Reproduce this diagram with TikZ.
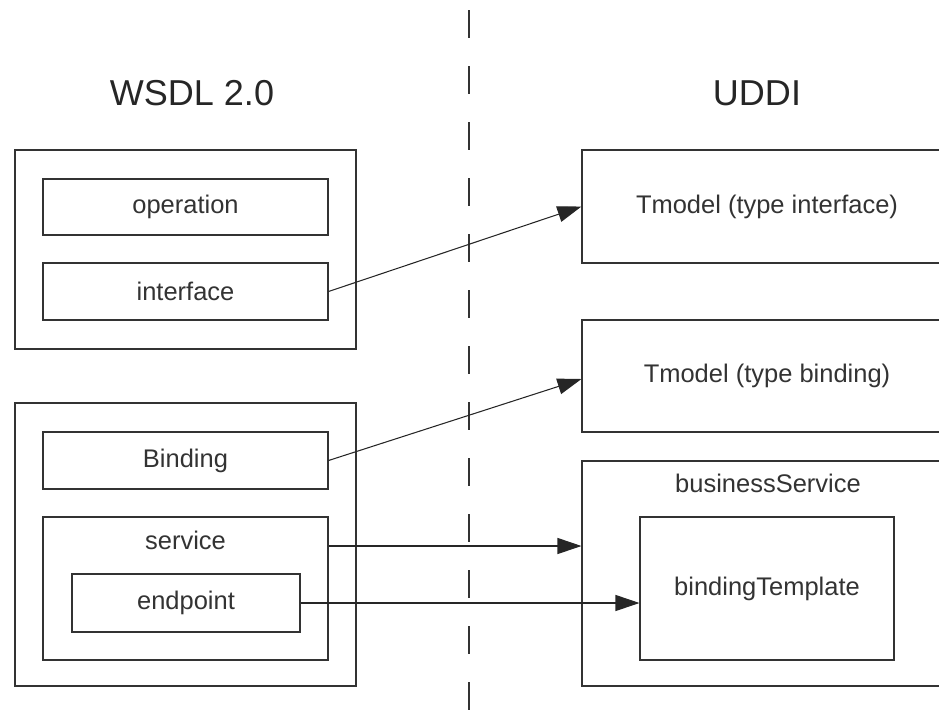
\documentclass[tikz,border=0pt]{standalone}
\usepackage{fontspec}
\setmainfont{Liberation Sans}
\usetikzlibrary{arrows.meta}

\tikzset{
  box/.style={draw=black!80, line width=0.6pt, inner sep=0pt, text=black!80,
    font=\fontsize{14.5pt}{17pt}\selectfont},
  lbl/.style={text=black!80, font=\fontsize{14.5pt}{17pt}\selectfont},
  ttl/.style={text=black!85, font=\fontsize{20.5pt}{24pt}\selectfont},
  arr/.style={draw=black!85, line width=0.6pt, -{Triangle[length=0.48cm,width=0.32cm]}}
}

\begin{document}
\begin{tikzpicture}
    \useasboundingbox (0,0) rectangle (18.78,-14.48);
    \clip (0,0) rectangle (18.78,-14.48);

    % Titel
    \node[ttl] (wsdl) at (3.84,-1.86) {WSDL 2.0};
    \node[ttl] (uddi) at (15.14,-1.86) {UDDI};

    % Trennlinie
    \draw[black!80, line width=0.6pt, dash pattern=on 0.56cm off 0.56cm] (9.38,-0.2) -- (9.38,-14.6);

    % WSDL: interface
    \node[box, minimum width=6.82cm, minimum height=3.98cm] (ifgroup) at (3.71,-4.99) {};
    \node[box, minimum width=5.70cm, minimum height=1.12cm] (operation) at (3.71,-4.14) {operation};
    \node[box, minimum width=5.70cm, minimum height=1.14cm] (interface) at (3.71,-5.83) {interface};

    % WSDL: binding und service
    \node[box, minimum width=6.82cm, minimum height=5.66cm] (svgroup) at (3.71,-10.89) {};
    \node[box, minimum width=5.70cm, minimum height=1.14cm] (binding) at (3.71,-9.21) {Binding};
    \node[box, minimum width=5.70cm, minimum height=2.86cm] (service) at (3.71,-11.77) {};
    \node[lbl] (servicelbl) at (3.71,-10.80) {service};
    \node[box, minimum width=4.56cm, minimum height=1.16cm] (endpoint) at (3.72,-12.06) {endpoint};

    % UDDI
    \node[box, minimum width=7.40cm, minimum height=2.26cm] (tmodelif) at (15.34,-4.13) {Tmodel (type interface)};
    \node[box, minimum width=7.40cm, minimum height=2.24cm] (tmodelbd) at (15.34,-7.52) {Tmodel (type binding)};
    \node[box, minimum width=7.40cm, minimum height=4.50cm] (bizsvc) at (15.34,-11.47) {};
    \node[lbl] (bizsvclbl) at (15.36,-9.66) {businessService};
    \node[box, minimum width=5.08cm, minimum height=2.86cm] (bindtpl) at (15.34,-11.77) {bindingTemplate};

    % Abbildung
    \draw[arr] (interface.east) -- (tmodelif.west);
    \draw[arr] (binding.east) -- ([yshift=-0.06cm]tmodelbd.west);
    \draw[arr] ([yshift=0.85cm]service.east) -- ([yshift=0.85cm]service.east -| bizsvc.west);
    \draw[arr] (endpoint.east) -- (endpoint.east -| bindtpl.west);
\end{tikzpicture}
\end{document}
